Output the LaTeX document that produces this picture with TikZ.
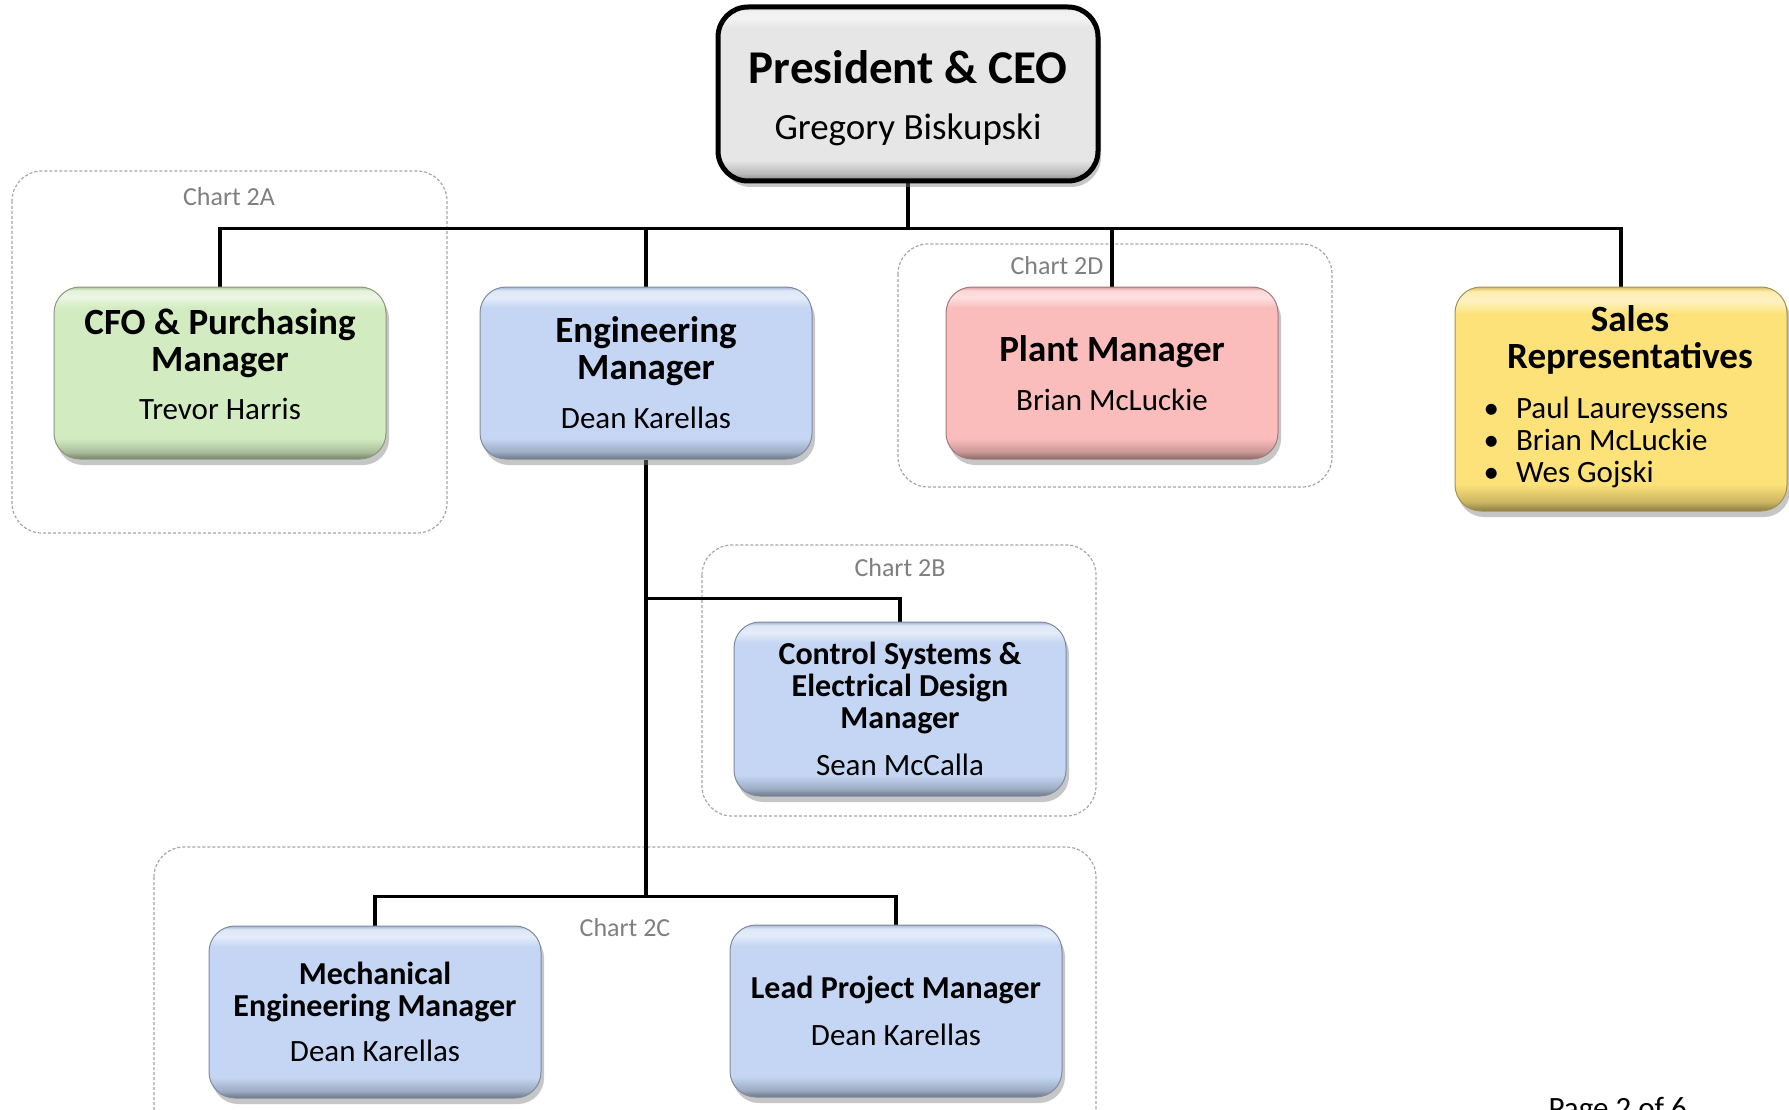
\documentclass[tikz,border=0pt]{standalone}
\usepackage{fontspec}
\setmainfont{Carlito}
\usetikzlibrary{shadows,backgrounds}

\definecolor{ceogray}{HTML}{E6E6E6}
\definecolor{cfogreen}{HTML}{D3EBC1}
\definecolor{engblue}{HTML}{C4D6F3}
\definecolor{plantpink}{HTML}{FBBCBC}
\definecolor{salesyellow}{HTML}{FDE27A}
\definecolor{framegray}{HTML}{A6A6A6}
\definecolor{labelgray}{HTML}{7F7F7F}

% bevelled fill for the boxes
\newcommand{\makebevel}[1]{%
  \pgfdeclareverticalshading{bevel#1}{100bp}{%
    color(0bp)=(#1!55!black); color(25bp)=(#1!55!black);
    color(27bp)=(#1!80!black); color(31bp)=(#1);
    color(69bp)=(#1); color(72bp)=(#1!45!white);
    color(74bp)=(#1!60!white); color(75bp)=(#1!85!black);
    color(100bp)=(#1!85!black)}}
\makebevel{ceogray}
\makebevel{cfogreen}
\makebevel{engblue}
\makebevel{plantpink}
\makebevel{salesyellow}

\newcommand{\ceotitlef}{\fontsize{47}{47}\selectfont\bfseries}
\newcommand{\ceonamef}{\fontsize{37}{37}\selectfont\mdseries}
\newcommand{\titlef}{\fontsize{37}{37}\selectfont\bfseries}
\newcommand{\smalltitlef}{\fontsize{32}{32}\selectfont\bfseries}
\newcommand{\namef}{\fontsize{31}{32}\selectfont\mdseries}

\tikzset{
  box/.style={rounded corners=26pt, minimum width=332pt, minimum height=172pt,
    align=center, inner sep=0pt, shade, line width=1pt,
    drop shadow={shadow xshift=3pt, shadow yshift=-6pt, opacity=.45}},
  boxcolor/.style={box, shading=bevel#1, draw=#1!65!black},
  ceobox/.style={box, shading=bevelceogray, draw=black, line width=5pt,
    rounded corners=30pt, minimum width=380pt, minimum height=174pt,
    font=\fontsize{47}{56}\selectfont},
  bigbox/.style={boxcolor=#1, font=\fontsize{37}{37}\selectfont},
  lowbox/.style={boxcolor=engblue, font=\fontsize{32}{32}\selectfont},
  conn/.style={line width=3.5pt, black},
  chartframe/.style={draw=framegray, densely dashed, line width=1.2pt, rounded corners=30pt},
  chartlabel/.style={text=labelgray, font=\fontsize{26}{28}\selectfont}
}

\begin{document}
\begin{tikzpicture}[x=1pt, y=-1pt]
    \useasboundingbox (0,0) rectangle (1789,1110);

    % Top
    \node[ceobox] (ceo) at (908,94)
        {\ceotitlef\rule{0pt}{42pt}President \& CEO\\\ceonamef Gregory Biskupski};

    % Second row
    \node[bigbox=cfogreen] (cfo) at (220,373)
        {\titlef CFO \& Purchasing\\\titlef Manager\\[11pt]\namef Trevor Harris\rule[-17pt]{0pt}{17pt}};
    \node[bigbox=engblue] (eng) at (646,373)
        {\titlef Engineering\\\titlef Manager\\[12pt]\namef Dean Karellas};
    \node[bigbox=plantpink] (plant) at (1112,373)
        {\titlef Plant Manager\\[12pt]\namef Brian McLuckie};
    \node[bigbox=salesyellow, minimum height=224pt] (sales) at (1621,399)
        {\titlef\hspace*{18pt}Sales\\\titlef\hspace*{18pt}Representatives\\[13pt]\namef
         \begin{tabular}[t]{@{}l@{\hspace{17pt}}l@{}}
           \textbullet & Paul Laureyssens\\
           \textbullet & Brian McLuckie\\
           \textbullet & Wes Gojski
         \end{tabular}\hspace*{30pt}};

    % Engineering
    \node[lowbox, minimum height=174pt] (ctrl) at (900,709)
        {\smalltitlef Control Systems \&\\\smalltitlef Electrical Design\\\smalltitlef Manager\\[15pt]\namef Sean McCalla};
    \node[lowbox] (mech) at (375,1012)
        {\smalltitlef Mechanical\\\smalltitlef Engineering Manager\\[13pt]\namef Dean Karellas};
    \node[lowbox] (lead) at (896,1011)
        {\smalltitlef Lead Project Manager\\[15pt]\namef Dean Karellas};

    % Page number
    \node[anchor=base west, font=\fontsize{31}{31}\selectfont] (pagenum) at (1545,1118) {Page 2 of 6};

    \begin{scope}[on background layer]
        % Chart frames
        \draw[chartframe] (12,171) rectangle (447,533);
        \node[chartlabel] (lbla) at (229,197) {Chart 2A};
        \draw[chartframe] (702,545) rectangle (1096,816);
        \node[chartlabel] (lblb) at (900,568) {Chart 2B};
        \draw[chartframe] (154,847) rectangle (1096,1140);
        \node[chartlabel] (lblc) at (625,928) {Chart 2C};
        \draw[chartframe] (898,244) rectangle (1332,487);
        \node[chartlabel] (lbld) at (1057,266) {Chart 2D};

        % Connectors
        \foreach \child in {cfo,eng,plant,sales}
            \draw[conn] (ceo.south) -- ++(0,45) -| (\child.north);
        \draw[conn] (eng.south) -- ++(0,139) -| (ctrl.north);
        \foreach \child in {mech,lead}
            \draw[conn] (eng.south) -- ++(0,437) -| (\child.north);
    \end{scope}
\end{tikzpicture}
\end{document}
